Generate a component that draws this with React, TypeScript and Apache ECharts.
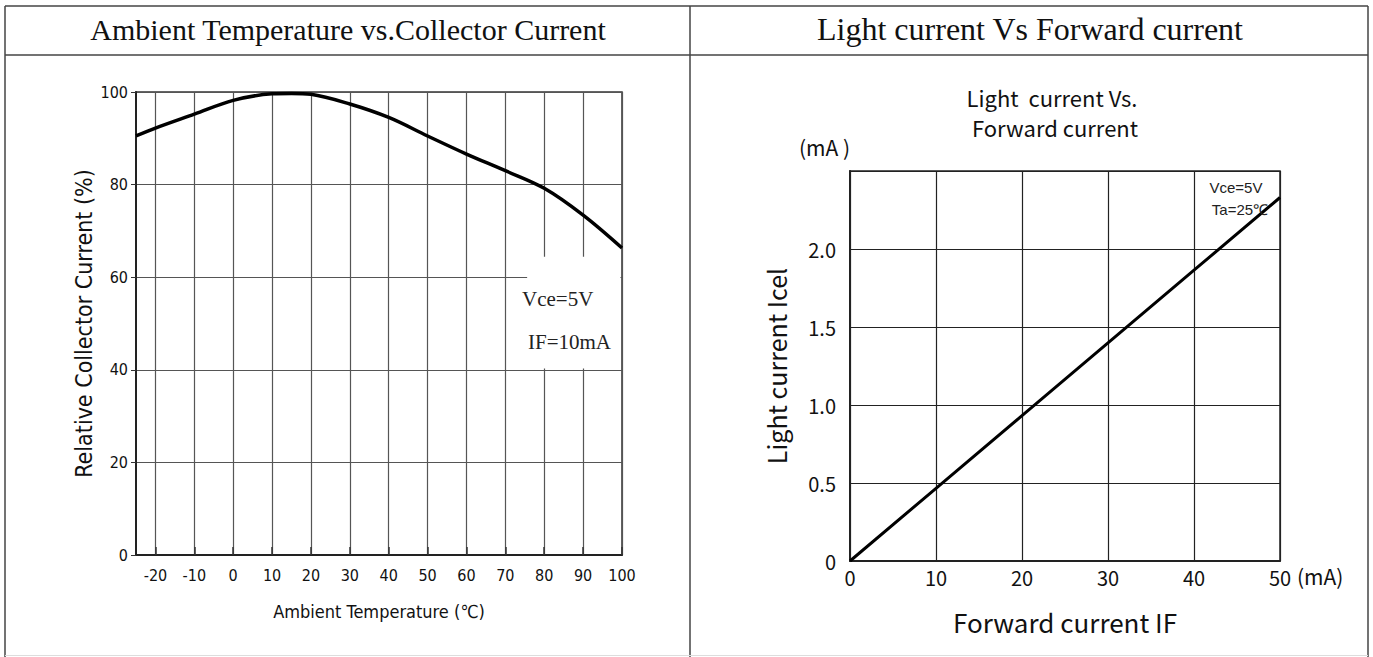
import React, { useEffect, useRef } from 'react';
import * as echarts from 'echarts';

// ---- Left chart data: Ambient Temperature vs. Relative Collector Current ----
const tempC = [-25, -20, -10, 0, 10, 15, 20, 30, 40, 50, 60, 70, 80, 90, 100];
const relCurrent = [90.5, 92.2, 95.2, 98.2, 99.6, 99.7, 99.5, 97.4, 94.5, 90.5, 86.6, 83.0, 79.2, 73.4, 66.3];
const tempTicks = [-20, -10, 0, 10, 20, 30, 40, 50, 60, 70, 80, 90, 100];

// ---- Right chart data: Light current vs. Forward current ----
const forwardIF = [0, 10, 20, 30, 40, 50];
const lightCurrent = [0, 0.466, 0.932, 1.398, 1.864, 2.33];

// ---- Texts ----
const headerLeft = 'Ambient Temperature vs.Collector Current';
const headerRight = 'Light current Vs Forward current';
const rightChartTitle = 'Light  current Vs.';
const rightChartTitle2 = 'Forward current';
const leftNotes = ['Vce=5V', 'IF=10mA'];
const rightNotes = ['Vce=5V', 'Ta=25℃'];

const NARROW = "'Liberation Sans Narrow', 'DejaVu Sans Condensed', 'Liberation Sans', sans-serif";
const GOTHIC = "'Noto Sans CJK JP', 'Noto Sans', sans-serif";
const SERIF = "'Liberation Serif', 'DejaVu Serif', serif";

export default function App() {
  const ref = useRef<HTMLDivElement>(null);

  useEffect(() => {
    if (!ref.current) return;
    const chart = echarts.init(ref.current, null, { renderer: 'svg' });
    const borderLine = { stroke: '#444', lineWidth: 1.5 };

    chart.setOption({
      animation: false,
      backgroundColor: '#ffffff',
      grid: [
        { left: 136, top: 92, width: 486, height: 463, show: true, borderColor: '#333', borderWidth: 1.5, backgroundColor: 'transparent' },
        { left: 850, top: 171, width: 430, height: 390, show: true, borderColor: '#222', borderWidth: 1.5, backgroundColor: 'transparent' },
      ],
      xAxis: [
        {
          gridIndex: 0,
          type: 'value',
          min: -25,
          max: 100,
          axisLine: { show: true, onZero: false, lineStyle: { color: '#222', width: 2 } },
          axisTick: { show: true, inside: true, length: 8, customValues: tempTicks, lineStyle: { color: '#333', width: 1.5 } },
          axisLabel: { customValues: tempTicks, margin: 12, fontFamily: NARROW, fontSize: 16, color: '#111' },
          splitLine: { show: true, lineStyle: { color: '#555', width: 1.2 } },
          name: 'Ambient Temperature (℃)',
          nameLocation: 'middle',
          nameGap: 47,
          nameTextStyle: { fontFamily: NARROW, fontSize: 18, color: '#111' },
        },
        {
          gridIndex: 1,
          type: 'value',
          min: 0,
          max: 50,
          interval: 10,
          axisLine: { show: true, onZero: false, lineStyle: { color: '#222', width: 2 } },
          axisTick: { show: false },
          axisLabel: { margin: 6, fontFamily: GOTHIC, fontSize: 20, color: '#111' },
          splitLine: { show: true, lineStyle: { color: '#222', width: 1.2 } },
          name: 'Forward current IF',
          nameLocation: 'middle',
          nameGap: 47,
          nameTextStyle: { fontFamily: GOTHIC, fontSize: 26, color: '#111' },
        },
        {
          gridIndex: 1,
          type: 'value',
          min: 0,
          max: 50,
          position: 'bottom',
          axisLine: { show: false },
          axisTick: { show: false },
          axisLabel: { show: false },
          splitLine: { show: false },
          name: '(mA)',
          nameLocation: 'end',
          nameGap: 17,
          nameTextStyle: { fontFamily: GOTHIC, fontSize: 21, color: '#111', align: 'left', verticalAlign: 'top', padding: [4, 0, 0, 0] },
        },
      ],
      yAxis: [
        {
          gridIndex: 0,
          type: 'value',
          min: 0,
          max: 100,
          interval: 20,
          axisLine: { show: true, onZero: false, lineStyle: { color: '#222', width: 2 } },
          axisTick: { show: true, length: 5, lineStyle: { color: '#333' } },
          axisLabel: { margin: 8, fontFamily: NARROW, fontSize: 16, color: '#111' },
          splitLine: { show: true, lineStyle: { color: '#555', width: 1.2 } },
          name: 'Relative Collector Current (%)',
          nameLocation: 'middle',
          nameGap: 41,
          nameTextStyle: { fontFamily: NARROW, fontSize: 23, color: '#111' },
        },
        {
          gridIndex: 1,
          type: 'value',
          min: 0,
          max: 2.5,
          interval: 0.5,
          axisLine: { show: true, onZero: false, lineStyle: { color: '#222', width: 2 } },
          axisTick: { show: false },
          axisLabel: {
            margin: 14,
            fontFamily: GOTHIC,
            fontSize: 20,
            color: '#111',
            formatter: (v: number) => (v === 0 ? '0' : v >= 2.5 ? '' : v.toFixed(1)),
          },
          splitLine: { show: true, lineStyle: { color: '#222', width: 1.2 } },
          name: 'Light current Icel',
          nameLocation: 'middle',
          nameGap: 62,
          nameTextStyle: { fontFamily: GOTHIC, fontSize: 25, color: '#111' },
        },
        {
          gridIndex: 1,
          type: 'value',
          min: 0,
          max: 2.5,
          position: 'left',
          axisLine: { show: false },
          axisTick: { show: false },
          axisLabel: { show: false },
          splitLine: { show: false },
          name: '(mA )',
          nameLocation: 'end',
          nameGap: 14,
          nameTextStyle: { fontFamily: GOTHIC, fontSize: 21, color: '#111', align: 'right' },
        },
      ],
      series: [
        {
          type: 'line',
          xAxisIndex: 0,
          yAxisIndex: 0,
          data: [],
          z: 3,
          silent: true,
          markArea: {
            silent: true,
            itemStyle: { color: '#ffffff', opacity: 1 },
            data: [[{ coord: [75.6, 64.4] }, { coord: [99.6, 40.3] }]],
          },
        },
        {
          type: 'line',
          xAxisIndex: 0,
          yAxisIndex: 0,
          z: 4,
          smooth: 0.35,
          symbol: 'none',
          lineStyle: { color: '#000', width: 3.5 },
          data: tempC.map((t, i) => [t, relCurrent[i]]),
        },
        {
          type: 'line',
          xAxisIndex: 1,
          yAxisIndex: 1,
          z: 4,
          symbol: 'none',
          lineStyle: { color: '#000', width: 3 },
          data: forwardIF.map((f, i) => [f, lightCurrent[i]]),
        },
      ],
      graphic: [
        { type: 'line', shape: { x1: 5, y1: 6, x2: 1368, y2: 6 }, style: borderLine },
        { type: 'line', shape: { x1: 5, y1: 55, x2: 1368, y2: 55 }, style: borderLine },
        { type: 'line', shape: { x1: 5, y1: 6, x2: 5, y2: 657 }, style: borderLine },
        { type: 'line', shape: { x1: 690, y1: 6, x2: 690, y2: 657 }, style: borderLine },
        { type: 'line', shape: { x1: 1368, y1: 6, x2: 1368, y2: 657 }, style: borderLine },
        { type: 'line', shape: { x1: 5, y1: 655.5, x2: 1368, y2: 655.5 }, style: { stroke: '#ddd', lineWidth: 1 } },
        {
          type: 'text', x: 348, y: 29,
          style: { text: headerLeft, fontFamily: SERIF, fontSize: 30, fill: '#111', align: 'center', verticalAlign: 'middle' },
        },
        {
          type: 'text', x: 1030, y: 29,
          style: { text: headerRight, fontFamily: SERIF, fontSize: 32, fill: '#111', align: 'center', verticalAlign: 'middle' },
        },
        {
          type: 'text', x: 1052, y: 97,
          style: { text: rightChartTitle, fontFamily: GOTHIC, fontSize: 22, fill: '#111', align: 'center', verticalAlign: 'middle' },
        },
        {
          type: 'text', x: 1055, y: 127,
          style: { text: rightChartTitle2, fontFamily: GOTHIC, fontSize: 22, fill: '#111', align: 'center', verticalAlign: 'middle' },
        },
        {
          type: 'text', x: 522, y: 299, z: 10,
          style: { text: leftNotes[0], fontFamily: SERIF, fontSize: 21, fill: '#222', align: 'left', verticalAlign: 'middle' },
        },
        {
          type: 'text', x: 528, y: 342, z: 10,
          style: { text: leftNotes[1], fontFamily: SERIF, fontSize: 21, fill: '#222', align: 'left', verticalAlign: 'middle' },
        },
        {
          type: 'text', x: 1236, y: 187, z: 10,
          style: { text: rightNotes[0], fontFamily: "'Liberation Sans', sans-serif", fontSize: 15, fill: '#222', align: 'center', verticalAlign: 'middle' },
        },
        {
          type: 'text', x: 1240, y: 209, z: 10,
          style: { text: rightNotes[1], fontFamily: "'Liberation Sans', sans-serif", fontSize: 15, fill: '#222', align: 'center', verticalAlign: 'middle' },
        },
      ],
    });

    return () => chart.dispose();
  }, []);

  return (
    <div
      ref={ref}
      style={{ position: 'absolute', left: 0, top: 0, width: 1373, height: 657, background: '#fff' }}
    />
  );
}
